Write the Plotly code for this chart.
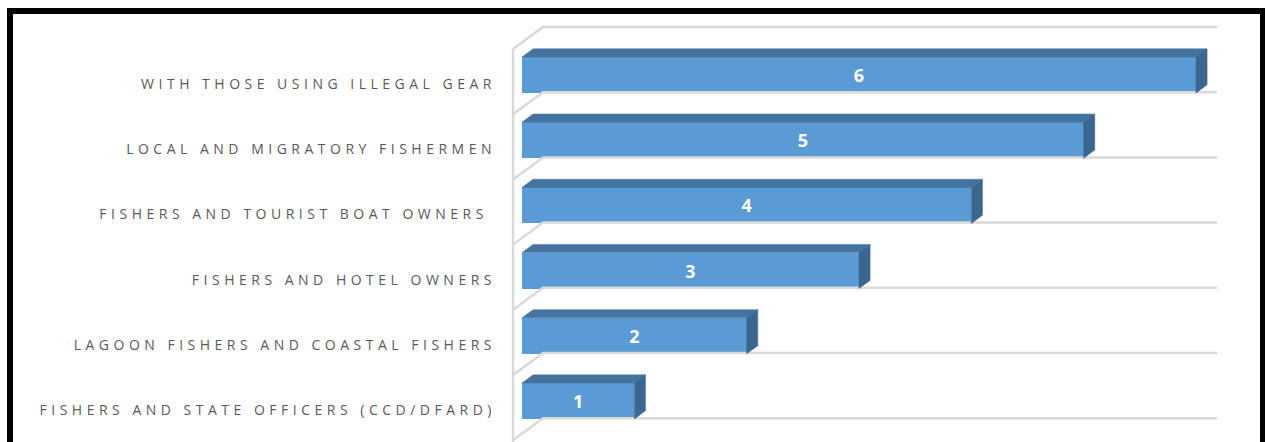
import plotly.graph_objects as go

# ---- data -------------------------------------------------------------
categories = [
    "FISHERS AND STATE OFFICERS (CCD/DFARD)",
    "LAGOON FISHERS AND COASTAL FISHERS",
    "FISHERS AND HOTEL OWNERS",
    "FISHERS AND TOURIST BOAT OWNERS\u00a0",
    "LOCAL AND MIGRATORY FISHERMEN",
    "WITH THOSE USING ILLEGAL GEAR",
]
values = [1, 2, 3, 4, 5, 6]
axis_max = 6

# ---- layout geometry (pixels) ----------------------------------------
W, H = 1265, 442
X0_PX = 522.0        # where value 0 sits on the bars' front faces
PX_PER_UNIT = 112.33
Y0_PX = 401.0        # centre of the lowest bar
PX_PER_CAT = 65.2
LEFT, RIGHT, TOP, BOTTOM = 505, 1232, 16, 442

x_range = [(LEFT - X0_PX) / PX_PER_UNIT, (RIGHT - X0_PX) / PX_PER_UNIT]
y_range = [(Y0_PX - BOTTOM) / PX_PER_CAT, (Y0_PX - TOP) / PX_PER_CAT]

# oblique depth of the whole floor (front plane -> back wall), data units
DX = 30 / PX_PER_UNIT
DY = 22 / PX_PER_CAT
FRONT = 0.3          # bar front face depth fraction
BAR_D = 0.37         # bar depth fraction
BAR_W = 36 / PX_PER_CAT

FRONT_COL = "#5b9bd5"
TOP_COL = "#44739f"
SIDE_COL = "#3b6690"
GRID_COL = "#d9d9d9"

pos = list(range(len(categories)))

fig = go.Figure()

# ---- walls: back-wall gridlines, side-wall diagonals, front edge -----
gx, gy = [], []
bounds = [p - 0.5 for p in pos] + [pos[-1] + 0.5]
for b in bounds:
    bx0, by = (1 - FRONT) * DX, b + (1 - FRONT) * DY
    gx += [-FRONT * DX, bx0, axis_max + bx0, None]
    gy += [b - FRONT * DY, by, by, None]
gx += [-FRONT * DX, -FRONT * DX, None]
gy += [bounds[-1] - FRONT * DY, y_range[0] - 1, None]
fig.add_trace(go.Scatter(x=gx, y=gy, mode="lines",
                         line=dict(color=GRID_COL, width=2.5),
                         hoverinfo="skip", showlegend=False))

# ---- front faces ------------------------------------------------------
fig.add_trace(go.Bar(
    x=values, y=pos, orientation="h", width=BAR_W,
    marker=dict(color=FRONT_COL, line=dict(width=0)),
    text=[str(v) for v in values], textposition="inside",
    insidetextanchor="middle", textangle=0,
    textfont=dict(family="Open Sans", size=18, color="white", weight="bold"),
    hoverinfo="skip", showlegend=False,
))

# ---- top and side faces ----------------------------------------------
ddx, ddy = BAR_D * DX, BAR_D * DY
for v, p in zip(values, pos):
    top, bot = p + BAR_W / 2, p - BAR_W / 2
    fig.add_trace(go.Scatter(
        x=[0, v, v + ddx, ddx, 0], y=[top, top, top + ddy, top + ddy, top],
        mode="lines", fill="toself", fillcolor=TOP_COL,
        line=dict(color=TOP_COL, width=0.5),
        hoverinfo="skip", showlegend=False))
    fig.add_trace(go.Scatter(
        x=[v, v + ddx, v + ddx, v, v], y=[bot, bot + ddy, top + ddy, top, bot],
        mode="lines", fill="toself", fillcolor=SIDE_COL,
        line=dict(color=SIDE_COL, width=0.5),
        hoverinfo="skip", showlegend=False))

plot_w = W - LEFT - (W - RIGHT)
plot_h = H - TOP - (H - BOTTOM)


def paper_x(px):
    return (px - LEFT) / plot_w


def paper_y(py):
    return (BOTTOM - py) / plot_h


fig.update_layout(
    width=W, height=H,
    margin=dict(l=LEFT, r=W - RIGHT, t=TOP, b=H - BOTTOM, pad=0),
    paper_bgcolor="white", plot_bgcolor="white",
    bargap=0,
    xaxis=dict(range=x_range, visible=False, fixedrange=True),
    yaxis=dict(
        range=y_range,
        tickmode="array",
        tickvals=[p - 9 / PX_PER_CAT for p in pos],
        ticktext=categories,
        showgrid=False, zeroline=False, showline=False,
        ticks="", ticklabelstandoff=8,
        tickfont=dict(family="Open Sans", size=14, color="#595959"),
        fixedrange=True,
    ),
    shapes=[dict(
        type="rect", xref="paper", yref="paper",
        x0=paper_x(10), x1=paper_x(1263), y0=paper_y(455), y1=paper_y(11),
        line=dict(color="black", width=6), fillcolor="rgba(0,0,0,0)",
        layer="above",
    )],
)

# widen the tracking of the category labels
spacing_js = """
var gd = document.getElementById('{plot_id}');
gd.querySelectorAll('.ytick text').forEach(function (t) {
    t.style.letterSpacing = '4.5px';
});
"""

fig.write_html("out.html", post_script=spacing_js,
               config={"displayModeBar": False, "staticPlot": True})
